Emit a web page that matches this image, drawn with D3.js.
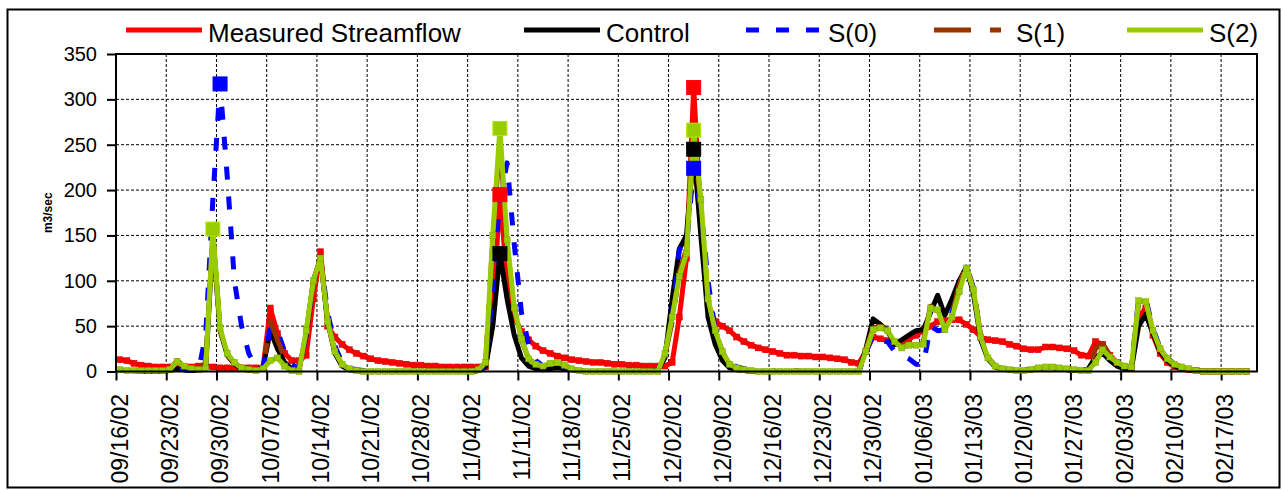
<!DOCTYPE html>
<html>
<head>
<meta charset="utf-8">
<script src="https://cdn.jsdelivr.net/npm/d3@7"></script>
<style>
  body { margin: 0; background: #fff; }
  svg { display: block; font-family: "Liberation Sans", Arial, sans-serif; }
</style>
</head>
<body>
<svg id="chart" width="1283" height="490"></svg>
<script>
// daily values, 09/16/02 .. 02/20/03 (one row = one week)
const firstDay = Date.UTC(2002, 8, 16)
const lastAxisDay = Date.UTC(2003, 1, 22)

const measured = [
  13, 12, 9, 7, 6, 5, 5,
  5, 5, 5, 5, 6, 6, 5,
  4, 4, 4, 4, 4, 4, 4,
  70, 42, 20, 12, 12, 18, 80,
  132, 50, 38, 30, 24, 20, 17,
  14, 12, 11, 10, 9, 8, 7,
  7, 6, 6, 5, 5, 5, 5,
  5, 5, 5, 60, 195, 100, 60,
  44, 35, 28, 23, 20, 17, 15,
  13, 12, 11, 10, 10, 9, 8,
  8, 7, 7, 6, 6, 6, 6,
  10, 60, 125, 313, 170, 75, 55,
  50, 45, 38, 33, 29, 26, 24,
  22, 20, 18, 18, 17, 17, 16,
  16, 15, 14, 13, 10, 9, 22,
  38, 36, 34, 31, 32, 36, 40,
  45, 50, 55, 56, 57, 57, 52,
  46, 38, 35, 34, 33, 30, 28,
  25, 24, 24, 27, 27, 26, 25,
  23, 18, 17, 33, 30, 18, 10,
  5, 4, 60, 70, 40, 20, 10,
  5, 3, 2, 1, 0, 0, 0,
  0, 0, 0, 0
]

const control = [
  1, 1, 1, 0, 0, 0, 0,
  1, 3, 2, 1, 1, 3, 150,
  46, 18, 8, 3, 1, 1, 5,
  45, 25, 10, 3, 2, 40, 100,
  125, 55, 20, 6, 2, 1, 0,
  0, 0, 0, 0, 0, 0, 0,
  0, 0, 0, 0, 0, 0, 0,
  0, 1, 5, 50, 130, 80, 40,
  15, 6, 3, 2, 3, 4, 3,
  2, 1, 0, 0, 0, 0, 0,
  0, 0, 0, 0, 0, 1, 15,
  80, 135, 150, 245, 150, 60, 30,
  12, 4, 2, 1, 0, 0, 0,
  0, 0, 0, 0, 0, 0, 0,
  0, 0, 0, 0, 0, 0, 25,
  58, 52, 45, 30, 35, 40, 45,
  46, 65, 84, 62, 80, 100, 115,
  85, 35, 14, 5, 3, 2, 1,
  1, 2, 3, 4, 4, 3, 2,
  1, 1, 3, 16, 20, 12, 6,
  3, 3, 50, 63, 42, 22, 12,
  6, 3, 2, 1, 0, 0, 0,
  0, 0, 0, 0
]

const s0 = [
  1, 1, 1, 1, 1, 1, 1,
  1, 3, 2, 1, 1, 40, 190,
  317, 215, 100, 50, 20, 5, 3,
  50, 45, 22, 8, 3, 40, 100,
  125, 65, 28, 10, 4, 2, 1,
  0, 0, 0, 0, 0, 0, 0,
  0, 0, 0, 0, 0, 0, 0,
  0, 1, 5, 90, 190, 230, 140,
  65, 30, 12, 6, 8, 8, 5,
  3, 1, 0, 0, 0, 0, 0,
  0, 0, 0, 0, 0, 1, 20,
  60, 135, 140, 224, 180, 100, 45,
  22, 10, 5, 3, 2, 1, 0,
  0, 0, 0, 0, 0, 0, 0,
  0, 0, 0, 0, 0, 0, 20,
  42, 35, 33, 22, 18, 14, 8,
  7, 50, 45, 46, 65, 95, 116,
  92, 38, 15, 6, 3, 2, 1,
  1, 2, 4, 5, 5, 4, 3,
  2, 1, 1, 10, 24, 16, 10,
  6, 5, 80, 80, 47, 26, 15,
  8, 5, 3, 1, 0, 0, 0,
  0, 0, 0, 0
]

const s1 = [
  1, 1, 1, 1, 1, 1, 1,
  2, 12, 6, 3, 2, 10, 150,
  45, 18, 9, 4, 2, 1, 4,
  55, 35, 15, 4, 1, 42, 98,
  128, 55, 22, 8, 3, 1, 0,
  0, 0, 0, 0, 0, 0, 0,
  0, 0, 0, 0, 0, 0, 0,
  0, 2, 10, 145, 255, 140, 68,
  35, 14, 8, 6, 9, 10, 7,
  3, 1, 0, 0, 0, 0, 0,
  0, 0, 0, 0, 0, 0, 18,
  55, 110, 135, 255, 185, 78, 44,
  21, 8, 4, 2, 1, 0, 0,
  0, 3, 4, 1, 0, 0, 0,
  0, 0, 0, 0, 0, 0, 24,
  48, 50, 47, 33, 27, 30, 30,
  33, 72, 70, 48, 62, 95, 118,
  90, 40, 16, 6, 3, 2, 1,
  1, 2, 4, 5, 5, 4, 3,
  2, 1, 2, 25, 31, 17, 10,
  6, 5, 76, 76, 45, 25, 14,
  8, 5, 3, 1, 0, 0, 0,
  0, 0, 0, 0
]

const s2 = [
  2, 1, 1, 1, 1, 1, 1,
  2, 11, 6, 3, 2, 3, 157,
  48, 20, 10, 4, 2, 1, 3,
  12, 15, 6, 1, 0, 45, 100,
  125, 55, 22, 8, 3, 1, 0,
  0, 0, 0, 0, 0, 0, 0,
  0, 0, 0, 0, 0, 0, 0,
  0, 2, 10, 150, 268, 145, 70,
  36, 14, 8, 6, 9, 10, 7,
  3, 1, 0, 0, 0, 0, 0,
  0, 0, 0, 0, 0, 0, 20,
  60, 105, 130, 266, 190, 80, 45,
  22, 8, 4, 2, 1, 0, 0,
  0, 0, 0, 0, 0, 0, 0,
  0, 0, 0, 0, 0, 0, 22,
  46, 48, 45, 33, 26, 29, 29,
  30, 70, 68, 46, 60, 88, 114,
  90, 38, 15, 6, 3, 2, 1,
  1, 2, 4, 5, 5, 4, 3,
  2, 1, 1, 10, 24, 16, 10,
  6, 5, 78, 77, 45, 25, 14,
  8, 5, 3, 1, 0, 0, 0,
  0, 0, 0, 0
]

// days that carry a big square marker
const measuredPeaks = ['2002-11-08', '2002-12-05']
const controlPeaks = ['2002-11-08', '2002-12-05']
const s0Peaks = ['2002-09-30', '2002-12-05']
const s1Peaks = []
const s2Peaks = ['2002-09-29', '2002-11-08', '2002-12-05']

const yTicks = [0, 50, 100, 150, 200, 250, 300, 350]

const series = [
  { name: 'Measured Streamflow', values: measured, peaks: measuredPeaks, color: '#ff0000', dash: null, dots: true },
  { name: 'Control', values: control, peaks: controlPeaks, color: '#000000', dash: null, dots: false },
  { name: 'S(0)', values: s0, peaks: s0Peaks, color: '#0000ff', dash: '13,17', dots: false },
  { name: 'S(1)', values: s1, peaks: s1Peaks, color: '#993300', dash: '37,19,11,19', dots: false },
  { name: 'S(2)', values: s2, peaks: s2Peaks, color: '#99cc00', dash: null, dots: true }
]

const svg = d3.select('#chart')
const plot = { left: 116, right: 1257, top: 54, bottom: 371.5 }

// outer frame
svg.append('rect')
  .attr('x', 7.5).attr('y', 9.5)
  .attr('width', 1272).attr('height', 478)
  .attr('fill', 'none').attr('stroke', '#000').attr('stroke-width', 2)

const x = d3.scaleUtc()
  .domain([new Date(firstDay), new Date(lastAxisDay)])
  .range([plot.left, plot.right])

const y = d3.scaleLinear()
  .domain([0, 350])
  .range([plot.bottom, plot.top])

// each value is drawn in the middle of its day
const dayPos = i => x(d3.utcHour.offset(d3.utcDay.offset(new Date(firstDay), i), 12))
const dayIndex = s => Math.round((Date.parse(s) - firstDay) / 864e5)

const weekTicks = d3.range(0, 155, 7).map(i => d3.utcDay.offset(new Date(firstDay), i))
const fmt = d3.utcFormat('%m/%d/%y')

// grid
const grid = svg.append('g')
grid.selectAll('.hg')
  .data(yTicks.filter(v => v > 0 && v < 350))
  .enter().append('line')
  .attr('x1', plot.left).attr('x2', plot.right)
  .attr('y1', d => y(d)).attr('y2', d => y(d))
  .attr('stroke', '#000').attr('stroke-width', 1).attr('stroke-dasharray', '3,2')
grid.selectAll('.vg')
  .data(weekTicks.slice(1))
  .enter().append('line')
  .attr('x1', d => x(d)).attr('x2', d => x(d))
  .attr('y1', plot.top).attr('y2', plot.bottom)
  .attr('stroke', '#000').attr('stroke-width', 1).attr('stroke-dasharray', '3,2')

// axes
const yAxis = svg.append('g')
  .attr('transform', `translate(${plot.left},0)`)
  .call(d3.axisLeft(y).tickValues(yTicks).tickSize(9).tickPadding(10))
yAxis.select('.domain').remove()
yAxis.selectAll('line').attr('stroke-width', 2)
yAxis.selectAll('text')
  .style('font-size', '20px').style('font-family', '"Liberation Sans", Arial, sans-serif')
  .attr('fill', '#000')

const xAxis = svg.append('g')
  .attr('transform', `translate(0,${plot.bottom})`)
  .call(d3.axisBottom(x).tickValues(weekTicks).tickSize(9).tickFormat(''))
xAxis.select('.domain').remove()
xAxis.selectAll('line').attr('stroke-width', 2)

svg.append('g').selectAll('text')
  .data(weekTicks)
  .enter().append('text')
  .attr('transform', d => `translate(${x(d) + 12},394) rotate(-90)`)
  .attr('text-anchor', 'end')
  .style('font-size', '23px')
  .text(d => fmt(d))

svg.append('text')
  .attr('transform', `translate(52,${(plot.top + plot.bottom) / 2}) rotate(-90)`)
  .attr('text-anchor', 'middle')
  .style('font-size', '12px').style('font-weight', 'bold')
  .text('m3/sec')

// series lines
const line = d3.line()
  .x((d, i) => dayPos(i))
  .y(d => y(d))

const lines = svg.append('g')
series.forEach(s => {
  lines.append('path')
    .datum(s.values)
    .attr('d', line)
    .attr('fill', 'none')
    .attr('stroke', s.color)
    .attr('stroke-width', 5)
    .attr('stroke-linejoin', 'round')
    .attr('stroke-dasharray', s.dash)

  if (s.dots) {
    lines.append('g').selectAll('rect')
      .data(s.values)
      .enter().append('rect')
      .attr('x', (d, i) => dayPos(i) - 3)
      .attr('y', d => y(d) - 3)
      .attr('width', 6).attr('height', 6)
      .attr('fill', s.color)
      .attr('stroke', d3.color(s.color).darker(0.6))
      .attr('stroke-width', 0.5)
  }
})

// big square markers
const marks = svg.append('g')
series.forEach(s => {
  marks.selectAll(null)
    .data(s.peaks.map(dayIndex))
    .enter().append('rect')
    .attr('x', i => dayPos(i) - 7)
    .attr('y', i => y(s.values[i]) - 7)
    .attr('width', 14).attr('height', 14)
    .attr('fill', s.color)
    .attr('stroke', d3.color(s.color).brighter(0.4))
    .attr('stroke-width', 1)
})

// plot frame
svg.append('rect')
  .attr('x', plot.left).attr('y', plot.top)
  .attr('width', plot.right - plot.left).attr('height', plot.bottom - plot.top)
  .attr('fill', 'none').attr('stroke', '#000').attr('stroke-width', 2)

// legend
const legendX = [126, 524, 746, 934, 1127]
const legend = svg.append('g')
series.forEach((s, k) => {
  legend.append('line')
    .attr('x1', legendX[k]).attr('x2', legendX[k] + 76)
    .attr('y1', 30).attr('y2', 30)
    .attr('stroke', s.color).attr('stroke-width', 5)
    .attr('stroke-dasharray', s.dash)
  legend.append('text')
    .attr('x', legendX[k] + 82).attr('y', 42)
    .style('font-size', '26px')
    .text(s.name)
})
</script>
</body>
</html>
